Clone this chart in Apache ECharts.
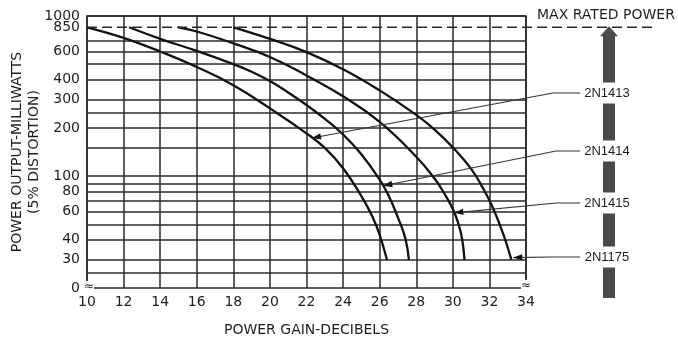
<!DOCTYPE html>
<html><head><meta charset="utf-8">
<script src="https://cdn.jsdelivr.net/npm/echarts@6/dist/echarts.min.js"></script>
<style>html,body{margin:0;padding:0;background:#fff}#c{width:678px;height:342px}</style>
</head><body><div id="c"></div>
<script>
// ---- data ----
const curveNames = ['2N1413', '2N1414', '2N1415', '2N1175'];
const curve2N1413 = [[10,850],[12,730],[14,600],[16,480],[18,370],[20,265],[22,185],[23,150],[24,112],[25,75],[25.6,56],[26,43],[26.4,30]];
const curve2N1414 = [[12.3,850],[14,720],[16,605],[18,500],[19,448],[20,392],[21,333],[22,278],[23,228],[24,182],[25,137],[26,95],[26.5,75],[27,55],[27.4,41],[27.6,30]];
const curve2N1415 = [[15,850],[16,800],[18,675],[20,555],[22,425],[24,315],[26,218],[28,132],[29,96.5],[29.5,79],[30,62.4],[30.3,50.5],[30.5,41],[30.64,30]];
const curve2N1175 = [[18,850],[20,720],[22,595],[24,465],[26,343],[28,241],[29,195],[30,151],[31,111],[31.6,86],[32.2,63],[32.8,42],[33.2,30]];
const yLabelValues = [1000, 850, 600, 400, 300, 200, 100, 80, 60, 40, 30];
const yExtraGridValues = [700, 500, 250, 150, 90, 70, 50, 25];
const yBottom = 20;          // bottom of broken axis, labelled "0"
const yBottomLabel = '0';
const maxRatedPower = 850;
const leaderTips = [[22.3,173],[26.2,87],[30.08,59],[33.3,31]];
const xTitle = 'POWER GAIN-DECIBELS';
const yTitle = 'POWER OUTPUT-MILLIWATTS\n(5% DISTORTION)';
const maxLabel = 'MAX RATED POWER';

const curves = [curve2N1413, curve2N1414, curve2N1415, curve2N1175];
const FONT = 'DejaVu Sans';
const INK = '#1e1e1e';
const GRID = '#2a2a2a';
const CLEAR = 'rgba(0,0,0,0)';

const chart = echarts.init(document.getElementById('c'), null, {renderer: 'canvas'});

const markData = [
  ...yLabelValues.map(v => Object.assign({yAxis: v, label: {show: true, formatter: String(v)}},
        v === maxRatedPower ? {lineStyle: {color: CLEAR}} : {})),
  ...yExtraGridValues.map(v => ({yAxis: v, label: {show: false}})),
  {yAxis: yBottom, label: {show: true, formatter: yBottomLabel}, lineStyle: {color: CLEAR}}
];

const series = curves.map((d, i) => ({
  name: curveNames[i],
  type: 'line',
  data: d,
  smooth: 0.45,
  symbol: 'none',
  showSymbol: false,
  clip: false,
  lineStyle: {color: '#111', width: 2.3},
  emphasis: {disabled: true},
  z: 5,
  markLine: i === 0 ? {
    silent: true,
    animation: false,
    symbol: ['none', 'none'],
    lineStyle: {color: GRID, width: 1.5, type: 'solid'},
    label: {position: 'start', distance: 7, color: INK, fontSize: 14, fontFamily: FONT},
    emphasis: {disabled: true},
    data: markData
  } : undefined
}));

const option = {
  animation: false,
  backgroundColor: '#fff',
  grid: {left: 87, top: 16, width: 439, height: 277, show: true, borderColor: GRID, borderWidth: 1.6, backgroundColor: 'transparent'},
  xAxis: {
    type: 'value', min: 10, max: 34, interval: 2,
    name: xTitle, nameLocation: 'middle', nameGap: 35,
    nameTextStyle: {color: INK, fontSize: 14, fontFamily: FONT},
    axisLine: {show: false}, axisTick: {show: false},
    axisLabel: {color: INK, fontSize: 14, fontFamily: FONT, margin: 7},
    splitLine: {show: true, lineStyle: {color: GRID, width: 1.5}}
  },
  yAxis: {
    type: 'log', logBase: 10, min: yBottom, max: 1000,
    name: yTitle, nameLocation: 'middle', nameGap: 44, nameRotate: 90,
    nameTextStyle: {color: INK, fontSize: 14, fontFamily: FONT, lineHeight: 17, align: 'center'},
    axisLine: {show: false}, axisTick: {show: false},
    axisLabel: {show: false}, splitLine: {show: false}, minorSplitLine: {show: false}
  },
  series: series
};
chart.setOption(option);

// ---- annotations (positions derived from the axes) ----
const px = (x, y) => chart.convertToPixel({gridIndex: 0}, [x, y]);
const g = [];
const pMax = px(10, maxRatedPower);
const dashEndX = 652;
g.push({type: 'line', z: 20, shape: {x1: pMax[0], y1: pMax[1], x2: dashEndX, y2: pMax[1]},
        style: {stroke: GRID, lineWidth: 1.5, lineDash: [10, 5]}});
g.push({type: 'text', z: 20, style: {text: maxLabel, x: 537, y: 15, align: 'left', verticalAlign: 'middle',
        fill: INK, font: '14px "' + FONT + '"'}});
// big arrow bar
const barCx = 609, barW = 12, barBottom = 298;
g.push({type: 'rect', z: 18, shape: {x: barCx - barW / 2, y: pMax[1] + 8, width: barW, height: barBottom - pMax[1] - 8},
        style: {fill: '#4a4a4a'}});
g.push({type: 'polygon', z: 18, shape: {points: [[barCx, pMax[1] - 1], [barCx + 9, pMax[1] + 9], [barCx - 9, pMax[1] + 9]]},
        style: {fill: '#4a4a4a'}});
// labels & leaders
const labelY = [93, 151, 203, 257];
const bendX = [553, 556, 556, 552];
const leaderEndX = 580;
leaderTips.forEach((t, i) => {
  const tip = px(t[0], t[1]);
  const bend = [bendX[i], labelY[i]];
  g.push({type: 'polyline', z: 21, shape: {points: [tip, bend, [leaderEndX, labelY[i]]]},
          style: {stroke: '#333', lineWidth: 1.2, fill: null}});
  const dx = tip[0] - bend[0], dy = tip[1] - bend[1], L = Math.hypot(dx, dy);
  const ux = dx / L, uy = dy / L, nx = -uy, ny = ux;
  const b = [tip[0] - 9 * ux, tip[1] - 9 * uy];
  g.push({type: 'polygon', z: 21, shape: {points: [tip, [b[0] + 3.2 * nx, b[1] + 3.2 * ny], [b[0] - 3.2 * nx, b[1] - 3.2 * ny]]},
          style: {fill: '#111'}});
  g.push({type: 'text', z: 22, style: {text: curveNames[i], x: 607, y: labelY[i], align: 'center', verticalAlign: 'middle',
          fill: INK, font: '13px "Liberation Sans"', backgroundColor: '#fff', padding: [4, 3]}});
});
// axis break marks
const pB = px(10, 25);
const pB2 = px(34, 25);
[[pB[0] + 2, 287], [pB2[0], 286]].forEach(p => {
  g.push({type: 'text', z: 22, style: {text: '\u2248', x: p[0], y: p[1], align: 'center', verticalAlign: 'middle',
          fill: INK, font: '12px "' + FONT + '"', backgroundColor: '#fff', padding: [0, 0]}});
});
chart.setOption({graphic: {elements: g}});
</script>
</body></html>
